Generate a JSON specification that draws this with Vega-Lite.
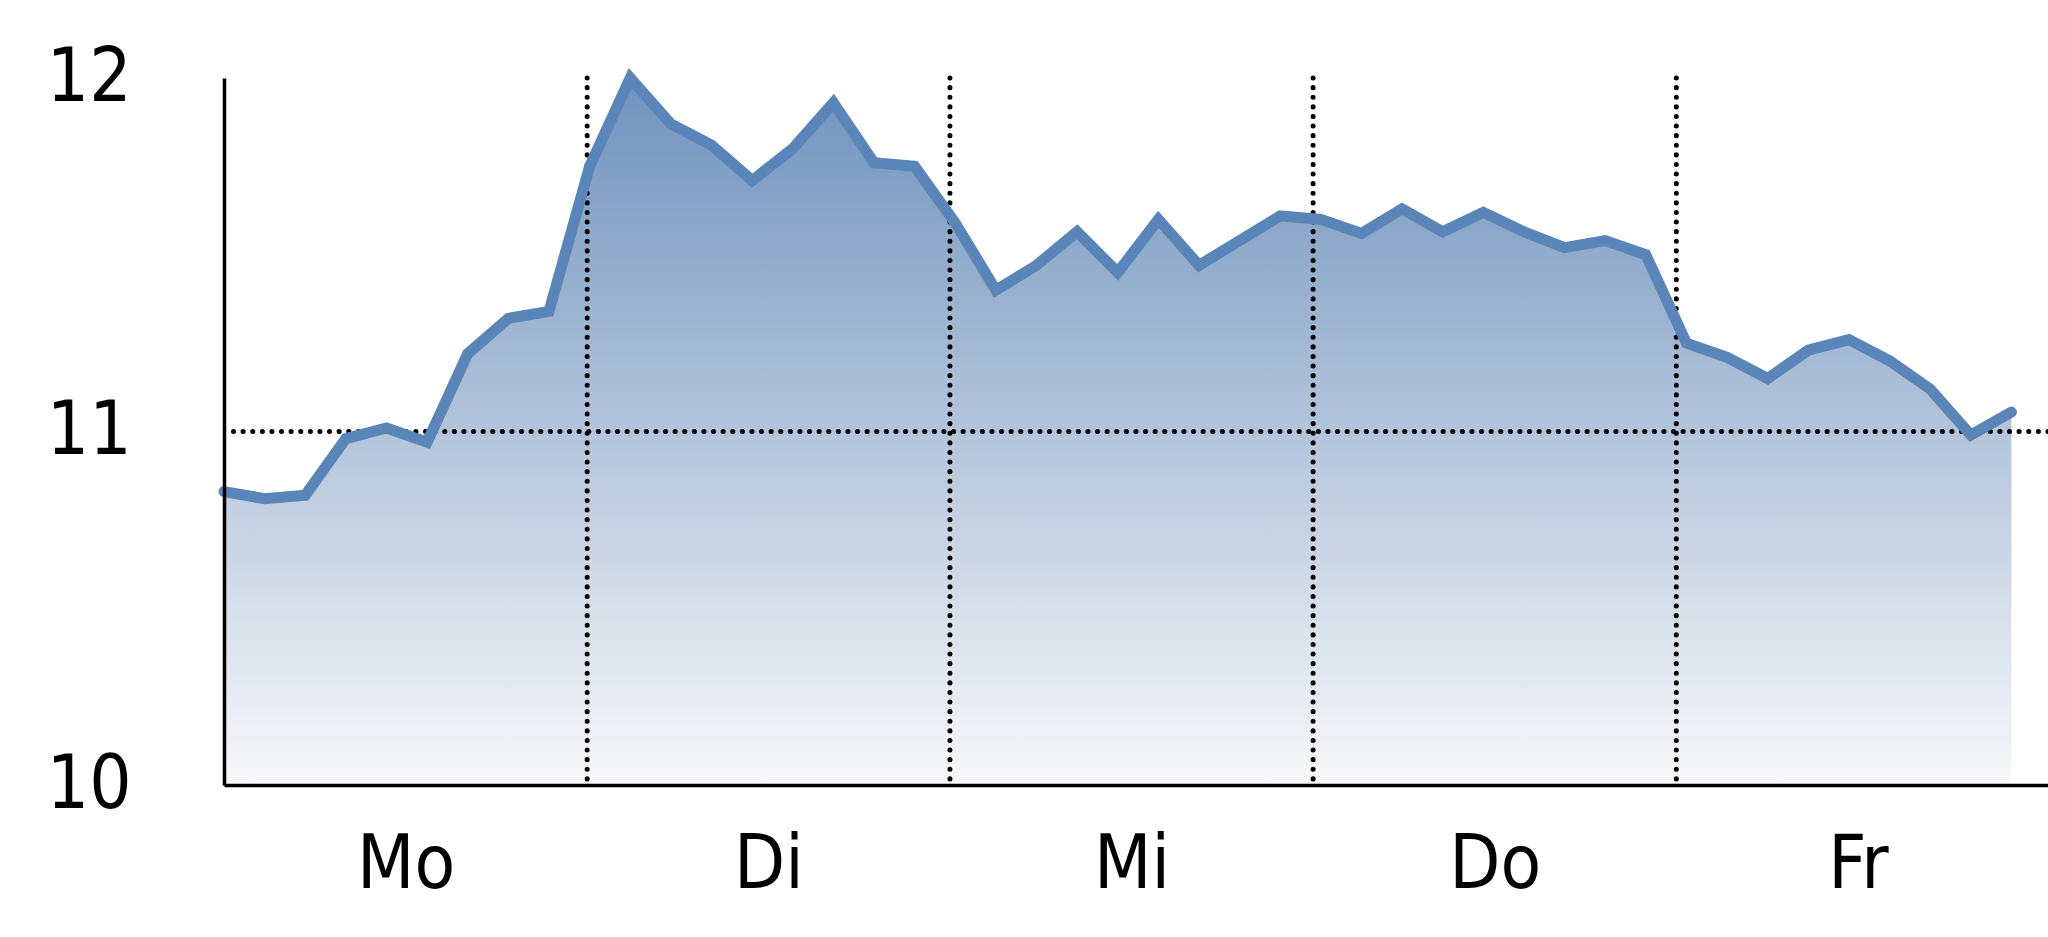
{
  "$schema": "https://vega.github.io/schema/vega-lite/v6.json",
  "width": 1824,
  "height": 707,
  "autosize": {"type": "none"},
  "padding": {"left": 224, "top": 78, "right": 0, "bottom": 152},
  "background": "white",
  "config": {"view": {"stroke": null}},
  "datasets": {
    "series": [
      {"i": 0, "v": 10.83}, {"i": 1, "v": 10.81}, {"i": 2, "v": 10.82},
      {"i": 3, "v": 10.98}, {"i": 4, "v": 11.01}, {"i": 5, "v": 10.97},
      {"i": 6, "v": 11.22}, {"i": 7, "v": 11.32}, {"i": 8, "v": 11.34},
      {"i": 9, "v": 11.75}, {"i": 10, "v": 12.0}, {"i": 11, "v": 11.87},
      {"i": 12, "v": 11.81}, {"i": 13, "v": 11.71}, {"i": 14, "v": 11.8},
      {"i": 15, "v": 11.93}, {"i": 16, "v": 11.76}, {"i": 17, "v": 11.75},
      {"i": 18, "v": 11.59}, {"i": 19, "v": 11.4}, {"i": 20, "v": 11.47},
      {"i": 21, "v": 11.565}, {"i": 22, "v": 11.45}, {"i": 23, "v": 11.6},
      {"i": 24, "v": 11.47}, {"i": 25, "v": 11.54}, {"i": 26, "v": 11.61},
      {"i": 27, "v": 11.6}, {"i": 28, "v": 11.56}, {"i": 29, "v": 11.63},
      {"i": 30, "v": 11.565}, {"i": 31, "v": 11.62}, {"i": 32, "v": 11.565},
      {"i": 33, "v": 11.52}, {"i": 34, "v": 11.54}, {"i": 35, "v": 11.5},
      {"i": 36, "v": 11.25}, {"i": 37, "v": 11.21}, {"i": 38, "v": 11.15},
      {"i": 39, "v": 11.23}, {"i": 40, "v": 11.26}, {"i": 41, "v": 11.2},
      {"i": 42, "v": 11.12}, {"i": 43, "v": 10.99}, {"i": 44, "v": 11.055}
    ],
    "dayBreaks": [{"b": 8.94}, {"b": 17.87}, {"b": 26.81}, {"b": 35.75}],
    "refLine": [{"level": 11}]
  },
  "layer": [
    {
      "data": {"name": "series"},
      "mark": {
        "type": "area",
        "opacity": 1,
        "color": {
          "gradient": "linear",
          "x1": 0, "y1": 0, "x2": 0, "y2": 1,
          "stops": [
            {"offset": 0, "color": "#6f92bd"},
            {"offset": 1, "color": "#f8f8f9"}
          ]
        }
      },
      "encoding": {
        "x": {
          "field": "i",
          "type": "quantitative",
          "scale": {"domain": [0, 44.9], "nice": false, "zero": false},
          "axis": {
            "values": [4.47, 13.4, 22.34, 31.28, 40.22],
            "labelExpr": "datum.value < 9 ? 'Mo' : datum.value < 18 ? 'Di' : datum.value < 27 ? 'Mi' : datum.value < 36 ? 'Do' : 'Fr'",
            "title": null,
            "grid": false,
            "ticks": false,
            "zindex": 1,
            "domainColor": "black",
            "domainWidth": 3.5,
            "labelFont": "DejaVu Sans Condensed, Liberation Sans, sans-serif",
            "labelFontSize": 74,
            "labelColor": "black",
            "labelPadding": 44,
            "labelFlush": false,
            "labelOverlap": false
          }
        },
        "y": {
          "field": "v",
          "type": "quantitative",
          "scale": {"domain": [10, 12], "nice": false, "zero": false},
          "axis": {
            "values": [10, 11, 12],
            "format": ".0f",
            "title": null,
            "grid": false,
            "ticks": false,
            "zindex": 1,
            "domainColor": "black",
            "domainWidth": 3.5,
            "labelFont": "DejaVu Sans Condensed, Liberation Sans, sans-serif",
            "labelFontSize": 74,
            "labelColor": "black",
            "labelPadding": 93,
            "labelFlush": false,
            "labelOverlap": false,
            "labelBound": false
          }
        },
        "y2": {"datum": 10}
      }
    },
    {
      "data": {"name": "dayBreaks"},
      "mark": {"type": "rule", "color": "black", "strokeWidth": 5, "strokeDash": [0.1, 9.5], "strokeCap": "round"},
      "encoding": {
        "x": {"field": "b", "type": "quantitative"}
      }
    },
    {
      "data": {"name": "refLine"},
      "mark": {"type": "rule", "color": "black", "strokeWidth": 5, "strokeDash": [0.1, 9.5], "strokeCap": "round"},
      "encoding": {
        "y": {"field": "level", "type": "quantitative"}
      }
    },
    {
      "data": {"name": "series"},
      "mark": {"type": "line", "color": "#5a85b8", "strokeWidth": 11, "strokeCap": "round"},
      "encoding": {
        "x": {"field": "i", "type": "quantitative"},
        "y": {"field": "v", "type": "quantitative"}
      }
    }
  ]
}
